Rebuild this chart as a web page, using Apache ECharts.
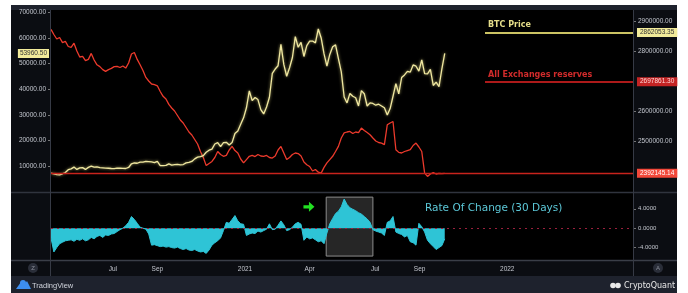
<!DOCTYPE html>
<html>
<head>
<meta charset="utf-8">
<script src="https://cdn.jsdelivr.net/npm/echarts@6/dist/echarts.min.js"></script>
<style>
html,body{margin:0;padding:0;background:#fff;}
#chart{width:688px;height:293px;}
</style>
</head>
<body>
<div id="chart"></div>
<script>
// one point every 4 days, starting here
var startDate = '2020-04-06';
var stepDays = 4;

var btcPrice = [
  7400, 7100, 6800, 6700, 7100, 7600, 8700, 9000, 9700, 8800,
  9400, 9500, 8800, 9600, 10100, 9700, 9800, 9500, 9400, 9300,
  9250, 9150, 9100, 9300, 9250, 9200, 9150, 9550, 11000, 11300,
  11200, 11650, 11600, 11900, 11850, 11700, 11450, 11950, 10250, 10300,
  10350, 10950, 10450, 10700, 10800, 10600, 10700, 11350, 11500, 11900,
  12900, 13600, 13800, 14150, 15500, 16300, 16700, 18700, 19200, 17700,
  19200, 19350, 18300, 19250, 22800, 23800, 26400, 28900, 32800, 39400,
  35600, 36800, 36000, 32100, 30400, 33100, 36900, 46200, 47900, 49200,
  57500, 49700, 45100, 48400, 52400, 60500, 56400, 58300, 52800, 57000,
  58800, 58800, 58100, 63500, 60000, 53800, 49000, 53600, 56600, 57300,
  52000, 46800, 37000, 34700, 38400, 37300, 36700, 33500, 39500, 38300,
  33500, 34700, 34500, 33800, 34200, 33500, 32800, 30000, 32500, 37300,
  42200, 38200, 44600, 45600, 47000, 46700, 49500, 49000, 47100, 51500,
  46100, 46000, 47800, 41500, 42800, 41000, 48000, 53960.5
];

var reserves = [
  2872000, 2855000, 2840000, 2845000, 2828000, 2832000, 2815000, 2812000, 2826000, 2800000,
  2780000, 2782000, 2768000, 2772000, 2792000, 2770000, 2754000, 2748000, 2738000, 2732000,
  2738000, 2742000, 2748000, 2749000, 2745000, 2750000, 2743000, 2760000, 2790000, 2795000,
  2772000, 2754000, 2735000, 2712000, 2700000, 2690000, 2688000, 2684000, 2665000, 2649000,
  2640000, 2622000, 2610000, 2600000, 2585000, 2570000, 2560000, 2545000, 2530000, 2520000,
  2505000, 2490000, 2465000, 2445000, 2418000, 2425000, 2432000, 2445000, 2465000, 2455000,
  2449000, 2452000, 2470000, 2482000, 2468000, 2460000, 2440000, 2427000, 2438000, 2449000,
  2452000, 2448000, 2455000, 2450000, 2449000, 2452000, 2445000, 2443000, 2450000, 2470000,
  2482000, 2460000, 2438000, 2445000, 2455000, 2460000, 2458000, 2450000, 2430000, 2421000,
  2415000, 2400000, 2405000, 2396000, 2393000, 2412000, 2427000, 2438000, 2449000, 2465000,
  2482000, 2510000, 2527000, 2530000, 2532000, 2525000, 2530000, 2528000, 2543000, 2535000,
  2528000, 2521000, 2510000, 2500000, 2495000, 2493000, 2488000, 2554000, 2560000, 2565000,
  2471000, 2462000, 2460000, 2465000, 2468000, 2471000, 2485000, 2493000, 2480000, 2465000,
  2393000, 2382000, 2390000, 2395000, 2390000, 2392000, 2391000, 2392145.14
];

// rate of change (30 days), %
var roc = [
  -2.0, -4.9, -4.0, -3.2, -2.9, -2.6, -2.5, -2.4, -2.7, -2.3,
  -2.5, -2.2, -2.6, -2.4, -1.9, -2.2, -1.7, -1.5, -1.9, -1.4,
  -1.5, -1.2, -1.1, -0.7, -0.3, 0.0, 0.5, 1.2, 2.4, 1.8,
  1.0, 0.2, 0.0, -0.2, -1.2, -3.5, -3.4, -3.6, -3.8, -3.7,
  -3.9, -3.8, -4.0, -4.1, -3.9, -4.2, -4.4, -4.2, -4.5, -4.6,
  -4.4, -4.7, -4.9, -4.8, -5.2, -4.5, -3.5, -3.0, -2.6, -2.0,
  -0.5, 1.2, 1.0, 1.8, 2.6, 1.5, 0.9, 0.8, -1.5, -1.2,
  -1.0, -1.1, -0.6, -0.8, -0.5, -0.2, 0.9, -0.3, -0.2, 0.6,
  1.5, 0.7, -0.5, -0.3, 0.2, 0.9, 1.2, 0.8, -2.5, -1.8,
  -2.2, -2.0, -2.4, -2.8, -2.6, -3.2, -1.0, 0.9, 2.0, 3.0,
  3.5, 4.4, 6.0, 4.9, 4.2, 3.9, 3.6, 3.2, 2.9, 2.4,
  1.9, 1.2, -0.3, -0.6, -0.8, -1.0, -1.5, 1.2, 1.5, 2.4,
  -0.8, -1.1, -1.3, -1.8, -1.5, -2.8, -3.0, -3.5, 1.0, 0.3,
  -0.8, -2.5, -3.2, -3.8, -4.4, -4.0, -3.6, -2.2
];

var tickDates = ['2020-07-01', '2020-09-01', '2021-01-01', '2021-04-01', '2021-07-01', '2021-09-01', '2022-01-01'];
var tickLabels = ['Jul', 'Sep', '2021', 'Apr', 'Jul', 'Sep', '2022'];

var priceTicks = [10000, 20000, 30000, 40000, 50000, 60000, 70000];
var reserveTicks = [2500000, 2600000, 2800000, 2900000];
var rocTicks = [-4, 0, 4];

var lastPrice = 53960.50;
var lastReserve = 2392145.14;
var btcLevel = 2862053.35;
var reserveLevel = 2697861.30;

var pd = function (s) { return +echarts.number.parseDate(s); };
var xMin = pd('2020-04-06'), xMax = pd('2022-06-25');
var legendFrom = pd('2021-12-01');
var boxFrom = pd('2021-04-24'), boxTo = pd('2021-06-28'), boxTop = 6.4, boxBottom = -5.75;
var arrowAt = [pd('2021-03-31'), 4.4];

var dates = [];
for (var i = 0; i < btcPrice.length; i++) {
  dates.push(pd(startDate) + i * stepDays * 86400000);
}
function pairs(vals) {
  return vals.map(function (v, i) { return [dates[i], v]; });
}
var tickTimes = tickDates.map(pd);

var axisTxt = '#c3c6ce';
var fnt = 'Liberation Sans';

var chart = echarts.init(document.getElementById('chart'));
chart.setOption({
  animation: false,
  backgroundColor: 'transparent',
  textStyle: { fontFamily: fnt },
  grid: [
    { left: 51, right: 55, top: 10, height: 182, show: true, backgroundColor: '#000', borderWidth: 0 },
    { left: 51, right: 55, top: 193, height: 67, show: true, backgroundColor: '#000', borderWidth: 0 }
  ],
  xAxis: [
    { type: 'value', gridIndex: 0, min: xMin, max: xMax, show: false },
    {
      type: 'value', gridIndex: 1, min: xMin, max: xMax,
      axisLine: { show: false }, axisTick: { show: false }, splitLine: { show: false },
      axisLabel: {
        customValues: tickTimes, color: axisTxt, fontSize: 6.5, margin: 6,
        formatter: function (v) {
          var k = tickTimes.indexOf(+v);
          return k >= 0 ? tickLabels[k] : '';
        }
      }
    }
  ],
  yAxis: [
    {
      type: 'value', gridIndex: 0, position: 'left', min: 0, max: 70900, interval: 10000,
      splitLine: { show: false }, axisLine: { show: false },
      axisTick: { show: true, length: 3, lineStyle: { color: '#777' }, customValues: priceTicks },
      axisLabel: { color: axisTxt, fontSize: 6.5, margin: 5, customValues: priceTicks,
        formatter: function (v) { return v.toFixed(2); } }
    },
    {
      type: 'value', gridIndex: 0, position: 'right', min: 2330000, max: 2936667,
      splitLine: { show: false }, axisLine: { show: false },
      axisTick: { show: true, length: 3, lineStyle: { color: '#777' }, customValues: reserveTicks },
      axisLabel: { color: axisTxt, fontSize: 6.5, margin: 5, customValues: reserveTicks,
        formatter: function (v) { return v.toFixed(2); } }
    },
    {
      type: 'value', gridIndex: 1, position: 'right', min: -6.56, max: 7.25,
      splitLine: { show: false }, axisLine: { show: false },
      axisTick: { show: true, length: 3, lineStyle: { color: '#777' }, customValues: rocTicks },
      axisLabel: { color: axisTxt, fontSize: 6, margin: 5, customValues: rocTicks,
        formatter: function (v) { return v.toFixed(4); } }
    }
  ],
  series: [
    {
      name: 'All Exchanges reserves', type: 'line', xAxisIndex: 0, yAxisIndex: 1,
      data: pairs(reserves), showSymbol: false, z: 3,
      lineStyle: { color: '#ec3a2c', width: 1.3 },
      markLine: {
        silent: true, symbol: 'none', animation: false,
        lineStyle: { color: '#c8231c', width: 1.3, type: 'solid', opacity: 1 },
        data: [
          { yAxis: lastReserve,
            label: { position: 'end', distance: 4, formatter: '2392145.14', backgroundColor: '#f2483a',
              color: '#fff', fontSize: 6.5, padding: [1, 3] } },
          [{ coord: [legendFrom, btcLevel] }, { coord: [xMax, btcLevel],
            lineStyle: { color: '#d9d06a', width: 1.5, type: 'solid' },
            label: { position: 'end', distance: 4, formatter: '2862053.35', backgroundColor: '#f2eb9a',
              color: '#333', fontSize: 6.5, padding: [1, 3] } }],
          [{ coord: [legendFrom, btcLevel] }, { coord: [xMax, btcLevel],
            lineStyle: { color: '#d9d06a', width: 1.5, type: 'solid' },
            label: { position: 'insideStartTop', distance: 3, formatter: 'BTC Price',
              color: '#e6de8a', fontSize: 8, fontWeight: 'bold', fontFamily: 'DejaVu Sans' } }],
          [{ coord: [legendFrom, reserveLevel] }, { coord: [xMax, reserveLevel],
            lineStyle: { color: '#b81d1d', width: 1.5, type: 'solid' },
            label: { position: 'end', distance: 4, formatter: '2697861.30', backgroundColor: '#c42424',
              color: '#ffd6d6', fontSize: 6.5, padding: [1, 3] } }],
          [{ coord: [legendFrom, reserveLevel] }, { coord: [xMax, reserveLevel],
            lineStyle: { color: '#b81d1d', width: 1.5, type: 'solid' },
            label: { position: 'insideStartTop', distance: 3, formatter: 'All Exchanges reserves',
              color: '#d22b2b', fontSize: 8, fontWeight: 'bold', fontFamily: 'DejaVu Sans' } }]
        ]
      }
    },
    {
      name: 'BTC Price', type: 'line', xAxisIndex: 0, yAxisIndex: 0,
      data: pairs(btcPrice), showSymbol: false, z: 4,
      lineStyle: { color: '#efe7a0', width: 1.3, shadowBlur: 3, shadowColor: 'rgba(240,230,140,0.7)' },
      markLine: {
        silent: true, symbol: 'none', animation: false,
        data: [
          { yAxis: lastPrice, lineStyle: { color: 'rgba(0,0,0,0)', width: 0 },
            label: { show: true, position: 'start', distance: 2, formatter: '53960.50', backgroundColor: '#f2eb9a',
              color: '#333', fontSize: 6.5, padding: [1, 2] } }
        ]
      }
    },
    {
      name: 'box', type: 'line', xAxisIndex: 1, yAxisIndex: 2, data: [], z: 1,
      markArea: {
        silent: true,
        itemStyle: { color: '#262626', borderColor: '#8c8c8c', borderWidth: 1 },
        data: [[{ coord: [boxFrom, boxTop] }, { coord: [boxTo, boxBottom] }]]
      }
    },
    {
      name: 'Rate Of Change (30 Days)', type: 'line', xAxisIndex: 1, yAxisIndex: 2,
      data: pairs(roc), showSymbol: false, z: 3,
      lineStyle: { color: '#2ec4d6', width: 1 },
      areaStyle: { color: '#2ec4d6', opacity: 1 },
      markLine: {
        silent: true, symbol: 'none', label: { show: false },
        data: [{ yAxis: 0, lineStyle: { color: '#9a1f3c', width: 1.2, type: [2, 4] } }]
      },
      markPoint: {
        silent: true,
        symbol: 'path://M0,4 L6,4 L6,0 L12,6 L6,12 L6,8 L0,8 Z',
        symbolSize: [11, 10],
        itemStyle: { color: '#22e022' },
        label: { show: false },
        data: [{ coord: arrowAt }]
      }
    }
  ],
  graphic: [
    { type: 'rect', z: -10, silent: true, shape: { x: 11, y: 5, width: 666, height: 288 }, style: { fill: '#1e222d' } },
    { type: 'rect', z: -9, silent: true, shape: { x: 11, y: 10, width: 666, height: 266 }, style: { fill: '#0b0d12' } },
    { type: 'line', z: 50, silent: true, shape: { x1: 11, y1: 192.5, x2: 677, y2: 192.5 }, style: { stroke: '#30343e', lineWidth: 1.5 } },
    { type: 'line', z: 50, silent: true, shape: { x1: 11, y1: 260.5, x2: 677, y2: 260.5 }, style: { stroke: '#3a3e48', lineWidth: 1.5 } },
    { type: 'line', z: 50, silent: true, shape: { x1: 50.5, y1: 10, x2: 50.5, y2: 276 }, style: { stroke: '#363a45', lineWidth: 1 } },
    { type: 'line', z: 50, silent: true, shape: { x1: 633.5, y1: 10, x2: 633.5, y2: 276 }, style: { stroke: '#363a45', lineWidth: 1 } },
    { type: 'circle', z: 50, silent: true, shape: { cx: 33, cy: 268, r: 5 }, style: { fill: '#2a2e39' } },
    { type: 'text', z: 51, silent: true, x: 33, y: 268, style: { text: 'Z', fill: '#8a8e99', fontSize: 6, align: 'center', verticalAlign: 'middle' } },
    { type: 'circle', z: 50, silent: true, shape: { cx: 658, cy: 268, r: 5 }, style: { fill: '#2a2e39' } },
    { type: 'text', z: 51, silent: true, x: 658, y: 268, style: { text: 'A', fill: '#8a8e99', fontSize: 6, align: 'center', verticalAlign: 'middle' } },
    { type: 'polygon', z: 50, silent: true, shape: { points: [[16, 289], [21, 282], [24, 285], [27, 281], [31, 289]] }, style: { fill: '#3d8ef0' } },
    { type: 'circle', z: 50, silent: true, shape: { cx: 23, cy: 283, r: 3 }, style: { fill: '#3d8ef0' } },
    { type: 'text', z: 51, silent: true, x: 32, y: 285.5, style: { text: 'TradingView', fill: '#d1d4dc', fontSize: 7.5, fontFamily: fnt, verticalAlign: 'middle' } },
    { type: 'circle', z: 50, silent: true, shape: { cx: 613, cy: 285.5, r: 2.8 }, style: { fill: '#e8e8e8' } },
    { type: 'circle', z: 50, silent: true, shape: { cx: 618, cy: 285.5, r: 2.8 }, style: { fill: '#e8e8e8' } },
    { type: 'text', z: 51, silent: true, x: 624, y: 285.5, style: { text: 'CryptoQuant', fill: '#e8e8e8', fontSize: 8, fontFamily: 'DejaVu Sans', verticalAlign: 'middle' } },
    { type: 'text', z: 51, silent: true, x: 425, y: 208, style: { text: 'Rate Of Change (30 Days)', fill: '#5cc8d8', fontSize: 10.5, fontFamily: 'DejaVu Sans', verticalAlign: 'middle' } }
  ]
});
</script>
</body>
</html>
